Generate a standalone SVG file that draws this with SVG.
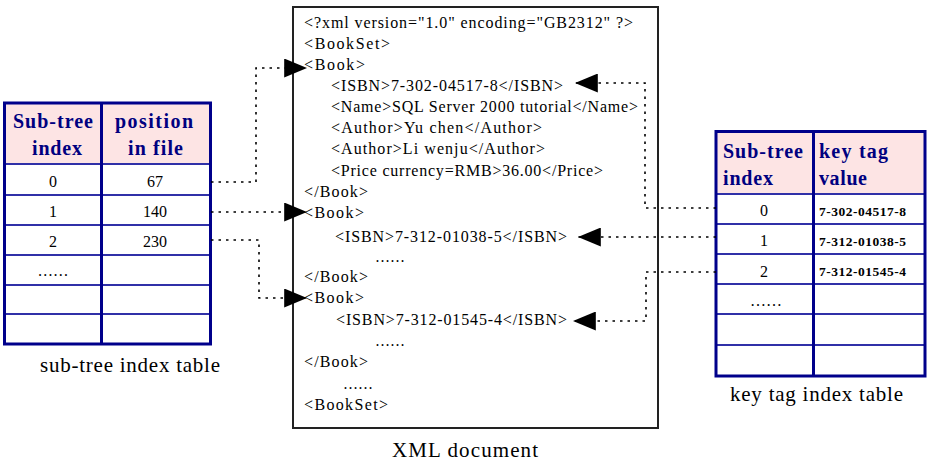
<svg xmlns="http://www.w3.org/2000/svg" width="927" height="462" viewBox="0 0 927 462">
<style>
.bg{fill:#fff}
.tb{fill:none;stroke:#00008b;stroke-width:3}
.rl{stroke:#3030a8;stroke-width:2}
.hd{fill:#fde4e4}
.ht{font-family:"Liberation Serif",serif;font-weight:bold;font-size:20px;fill:#000080}
.dt{font-family:"Liberation Serif",serif;font-size:16px;fill:#000}
.kv{font-family:"Liberation Serif",serif;font-weight:bold;font-size:13.5px;fill:#000}
.xt{font-family:"Liberation Serif",serif;font-size:16px;fill:#000}
.cap{font-family:"Liberation Serif",serif;font-size:21px;fill:#000}
.box{fill:#fff;stroke:#222;stroke-width:2}
.con{fill:none;stroke:#000;stroke-width:1.6;stroke-dasharray:2.5 5;marker-end:url(#ah)}
</style>
<defs>
<marker id="ah" viewBox="0 0 24 20" refX="24" refY="10" markerWidth="24" markerHeight="19" markerUnits="userSpaceOnUse" orient="auto">
<path d="M0,0 L24,10 L0,20 Z" fill="#000"/>
</marker>
</defs>
<rect class="bg" x="0" y="0" width="927" height="462"/>

<g id="xml-document">
<rect class="box" x="293" y="7" width="365" height="421"/>
<text class="xt" x="304" y="28" textLength="329" lengthAdjust="spacing">&lt;?xml version="1.0" encoding="GB2312" ?&gt;</text>
<text class="xt" x="304" y="49" textLength="86" lengthAdjust="spacing">&lt;BookSet&gt;</text>
<text class="xt" x="304" y="70" textLength="61" lengthAdjust="spacing">&lt;Book&gt;</text>
<text class="xt" x="331" y="91" textLength="232" lengthAdjust="spacing">&lt;ISBN&gt;7-302-04517-8&lt;/ISBN&gt;</text>
<text class="xt" x="331" y="112" textLength="307" lengthAdjust="spacing">&lt;Name&gt;SQL Server 2000 tutorial&lt;/Name&gt;</text>
<text class="xt" x="331" y="133" textLength="211" lengthAdjust="spacing">&lt;Author&gt;Yu chen&lt;/Author&gt;</text>
<text class="xt" x="331" y="154" textLength="214" lengthAdjust="spacing">&lt;Author&gt;Li wenju&lt;/Author&gt;</text>
<text class="xt" x="331" y="176" textLength="272" lengthAdjust="spacing">&lt;Price currency=RMB&gt;36.00&lt;/Price&gt;</text>
<text class="xt" x="304" y="197" textLength="64" lengthAdjust="spacing">&lt;/Book&gt;</text>
<text class="xt" x="304" y="218" textLength="60" lengthAdjust="spacing">&lt;Book&gt;</text>
<text class="xt" x="335" y="242" textLength="232" lengthAdjust="spacing">&lt;ISBN&gt;7-312-01038-5&lt;/ISBN&gt;</text>
<text class="xt" x="375" y="262" textLength="30" lengthAdjust="spacingAndGlyphs">……</text>
<text class="xt" x="304" y="282" textLength="64" lengthAdjust="spacing">&lt;/Book&gt;</text>
<text class="xt" x="304" y="303" textLength="60" lengthAdjust="spacing">&lt;Book&gt;</text>
<text class="xt" x="336" y="325" textLength="231" lengthAdjust="spacing">&lt;ISBN&gt;7-312-01545-4&lt;/ISBN&gt;</text>
<text class="xt" x="375" y="346" textLength="30" lengthAdjust="spacingAndGlyphs">……</text>
<text class="xt" x="304" y="367" textLength="64" lengthAdjust="spacing">&lt;/Book&gt;</text>
<text class="xt" x="343" y="389" textLength="30" lengthAdjust="spacingAndGlyphs">……</text>
<text class="xt" x="304" y="410" textLength="84" lengthAdjust="spacing">&lt;BookSet&gt;</text>
<text class="cap" x="392" y="457" textLength="146" lengthAdjust="spacing">XML document</text>
</g>

<g id="subtree-index-table">
<rect class="hd" x="4.5" y="103" width="206" height="61"/>
<line class="rl" x1="4.5" y1="164" x2="210.5" y2="164"/>
<line class="rl" x1="4.5" y1="195" x2="210.5" y2="195"/>
<line class="rl" x1="4.5" y1="225" x2="210.5" y2="225"/>
<line class="rl" x1="4.5" y1="255" x2="210.5" y2="255"/>
<line class="rl" x1="4.5" y1="285" x2="210.5" y2="285"/>
<line class="rl" x1="4.5" y1="314" x2="210.5" y2="314"/>
<line class="tb" x1="101.5" y1="103" x2="101.5" y2="344"/>
<rect class="tb" x="4.5" y="103" width="206" height="241"/>
<text class="ht" x="53" y="128" text-anchor="middle" textLength="80" lengthAdjust="spacing">Sub-tree</text>
<text class="ht" x="57" y="155" text-anchor="middle" textLength="50" lengthAdjust="spacing">index</text>
<text class="ht" x="154" y="128" text-anchor="middle" textLength="78" lengthAdjust="spacing">position</text>
<text class="ht" x="155.5" y="155" text-anchor="middle" textLength="55" lengthAdjust="spacing">in file</text>
<text class="dt" x="53" y="187" text-anchor="middle">0</text>
<text class="dt" x="155" y="187" text-anchor="middle">67</text>
<text class="dt" x="53" y="217" text-anchor="middle">1</text>
<text class="dt" x="155" y="217" text-anchor="middle">140</text>
<text class="dt" x="53" y="247" text-anchor="middle">2</text>
<text class="dt" x="155" y="247" text-anchor="middle">230</text>
<text class="dt" x="53" y="276" text-anchor="middle" textLength="31" lengthAdjust="spacingAndGlyphs">……</text>
<text class="cap" x="40" y="372" textLength="180" lengthAdjust="spacing">sub-tree index table</text>
</g>

<g id="key-tag-index-table">
<rect class="hd" x="716" y="131.5" width="209" height="62.5"/>
<line class="rl" x1="716" y1="194" x2="925" y2="194"/>
<line class="rl" x1="716" y1="224" x2="925" y2="224"/>
<line class="rl" x1="716" y1="254" x2="925" y2="254"/>
<line class="rl" x1="716" y1="284" x2="925" y2="284"/>
<line class="rl" x1="716" y1="314" x2="925" y2="314"/>
<line class="rl" x1="716" y1="345" x2="925" y2="345"/>
<line class="tb" x1="813.5" y1="131.5" x2="813.5" y2="376"/>
<rect class="tb" x="716" y="131.5" width="209" height="244.5"/>
<text class="ht" x="723" y="158" textLength="80" lengthAdjust="spacing">Sub-tree</text>
<text class="ht" x="723" y="185" textLength="50" lengthAdjust="spacing">index</text>
<text class="ht" x="819" y="158" textLength="69" lengthAdjust="spacing">key tag</text>
<text class="ht" x="819" y="185" textLength="48" lengthAdjust="spacing">value</text>
<text class="dt" x="764" y="216" text-anchor="middle">0</text>
<text class="kv" x="819" y="216" textLength="87" lengthAdjust="spacing">7-302-04517-8</text>
<text class="dt" x="764" y="246" text-anchor="middle">1</text>
<text class="kv" x="819" y="246" textLength="87" lengthAdjust="spacing">7-312-01038-5</text>
<text class="dt" x="764" y="277" text-anchor="middle">2</text>
<text class="kv" x="819" y="276" textLength="87" lengthAdjust="spacing">7-312-01545-4</text>
<text class="dt" x="766" y="306" text-anchor="middle" textLength="32" lengthAdjust="spacingAndGlyphs">……</text>
<text class="cap" x="730" y="401" textLength="173" lengthAdjust="spacing">key tag index table</text>
</g>

<g id="connectors">
<path class="con" d="M211 182 H256 V68 H307"/>
<path class="con" d="M211 212 H307"/>
<path class="con" d="M211 240 H259 V298 H307"/>
<path class="con" d="M716 208 H645 V83 H575"/>
<path class="con" d="M716 237 H578"/>
<path class="con" d="M716 272 H646 V321 H573"/>
</g>
</svg>
